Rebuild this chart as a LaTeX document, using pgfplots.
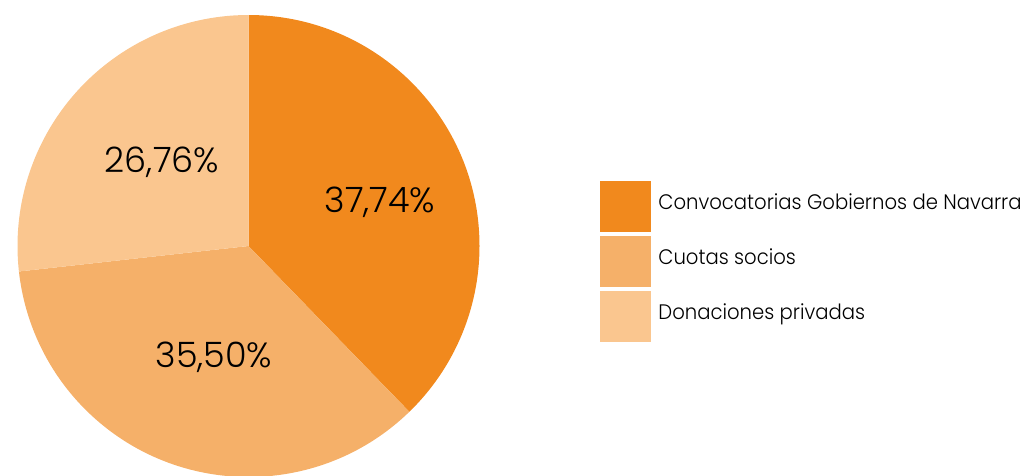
\documentclass[border=0pt]{standalone}
\usepackage{fontspec}
\setmainfont{Poppins}[UprightFont=* Light]
\newfontfamily\legfont{Poppins}[UprightFont=* Light, FakeStretch=0.935]
\usepackage{pgfplots}
\usepackage{pgfplotstable}
\pgfplotsset{compat=1.18}
\definecolor{c1}{RGB}{241,137,29}
\definecolor{c2}{RGB}{245,176,105}
\definecolor{c3}{RGB}{250,198,143}
\pgfplotstableread{
value
37.74
35.50
26.76
}\piedata
\begin{document}%
\begin{tikzpicture}
\pgfplotstablegetelem{0}{value}\of\piedata\let\vA\pgfplotsretval
\pgfplotstablegetelem{1}{value}\of\piedata\let\vB\pgfplotsretval
\pgfplotstablegetelem{2}{value}\of\piedata\let\vC\pgfplotsretval
\pgfmathsetmacro\angA{90-3.6*\vA}
\pgfmathsetmacro\angB{\angA-3.6*\vB}
\pgfmathsetmacro\angC{\angB-3.6*\vC}
\begin{axis}[
  scale only axis, width=1027pt, height=475pt,
  xmin=0, xmax=1027, ymin=0, ymax=475,
  hide axis, clip=true,
  legend style={at={(axis cs:600,294)}, anchor=north west, draw=none, fill=none,
    inner sep=0pt, outer sep=0pt, row sep=4.5pt,
    nodes={inner sep=0pt, anchor=west, text height=0.7em, text depth=0pt},
    font=\legfont\fontsize{21}{21}\selectfont,
    /tikz/every odd column/.style={column sep=8pt}},
  legend cell align=left,
  legend image code/.code={\fill[#1] (0pt,-25pt) rectangle (50pt,25pt);},
]
\coordinate (LL) at (axis cs:0,0);
\coordinate (UR) at (axis cs:1027,475);
\fill[c1] (axis cs:248.5,229) -- (axis cs:248.5,460) arc[start angle=90, end angle=\angA, radius=231pt] -- cycle;
\fill[c2] (axis cs:248.5,229) -- ++(\angA:231pt) arc[start angle=\angA, end angle=\angB, radius=231pt] -- cycle;
\fill[c3] (axis cs:248.5,229) -- ++(\angB:231pt) arc[start angle=\angB, end angle=\angC, radius=231pt] -- cycle;
\node[font=\fontsize{35}{35}\selectfont] at (axis cs:380,273) {37,74\%};
\node[font=\fontsize{35}{35}\selectfont] at (axis cs:214,118) {35,50\%};
\node[font=\fontsize{35}{35}\selectfont] at (axis cs:162,313) {26,76\%};
\addlegendimage{c1}\addlegendentry{Convocatorias Gobiernos de Navarra}
\addlegendimage{c2}\addlegendentry{Cuotas socios}
\addlegendimage{c3}\addlegendentry{Donaciones privadas}
\end{axis}
\pgfresetboundingbox
\useasboundingbox (LL) rectangle (UR);
\end{tikzpicture}%
\end{document}
